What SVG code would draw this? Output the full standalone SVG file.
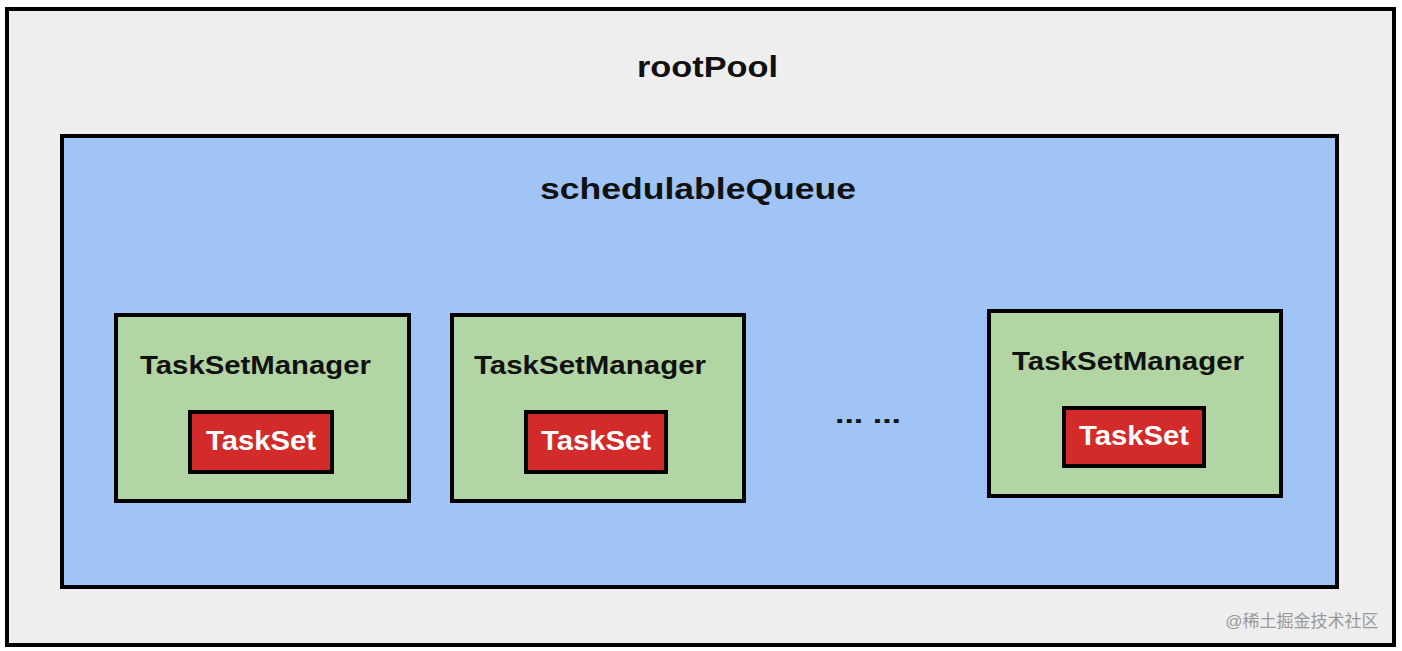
<svg xmlns="http://www.w3.org/2000/svg" width="1402" height="651" viewBox="0 0 1402 651">
<style>
.lbl{font-family:"Liberation Sans",Arial,sans-serif;fill:#111;font-weight:bold;}
.big{font-size:30px;}
.tsm{font-size:26px;}
.ts{font-size:27px;fill:#fff;}
.box{stroke:#000;stroke-width:4;}
</style>
<rect width="1402" height="651" fill="#ffffff"/>
<g id="rootPool">
<rect class="box" x="7" y="9" width="1387" height="636" fill="#eeeeee"/>
<text class="lbl big" x="637" y="77" textLength="141" lengthAdjust="spacingAndGlyphs">rootPool</text>
</g>
<g id="schedulableQueue">
<rect class="box" x="62" y="136" width="1275" height="451" fill="#9fc4f5"/>
<text class="lbl big" x="540" y="199" textLength="316" lengthAdjust="spacingAndGlyphs">schedulableQueue</text>
</g>
<g id="tsm1">
<rect class="box" x="116" y="315" width="293" height="186" fill="#b2d5a4"/>
<text class="lbl tsm" x="140" y="374" textLength="231" lengthAdjust="spacingAndGlyphs">TaskSetManager</text>
</g>
<g id="taskset1">
<rect x="190" y="412" width="142" height="60" fill="#d32a2a" stroke="#000" stroke-width="4"/>
<text class="lbl ts" x="206" y="450" textLength="110" lengthAdjust="spacingAndGlyphs">TaskSet</text>
</g>
<g id="tsm2">
<rect class="box" x="452" y="315" width="292" height="186" fill="#b2d5a4"/>
<text class="lbl tsm" x="474" y="374" textLength="232" lengthAdjust="spacingAndGlyphs">TaskSetManager</text>
</g>
<g id="taskset2">
<rect x="526" y="412" width="140" height="60" fill="#d32a2a" stroke="#000" stroke-width="4"/>
<text class="lbl ts" x="541" y="450" textLength="110" lengthAdjust="spacingAndGlyphs">TaskSet</text>
</g>
<g id="ellipsis">
<text class="lbl" x="835" y="423" font-size="26" textLength="66" lengthAdjust="spacingAndGlyphs">... ...</text>
</g>
<g id="tsm3">
<rect class="box" x="989" y="311" width="292" height="185" fill="#b2d5a4"/>
<text class="lbl tsm" x="1012" y="370" textLength="232" lengthAdjust="spacingAndGlyphs">TaskSetManager</text>
</g>
<g id="taskset3">
<rect x="1064" y="408" width="140" height="58" fill="#d32a2a" stroke="#000" stroke-width="4"/>
<text class="lbl ts" x="1079" y="445" textLength="110" lengthAdjust="spacingAndGlyphs">TaskSet</text>
</g>
<g id="connectors"></g>
<text x="1302" y="627" text-anchor="middle" font-family="'Liberation Sans','Noto Sans CJK SC',sans-serif" font-size="17" fill="#999">@稀土掘金技术社区</text>
</svg>
